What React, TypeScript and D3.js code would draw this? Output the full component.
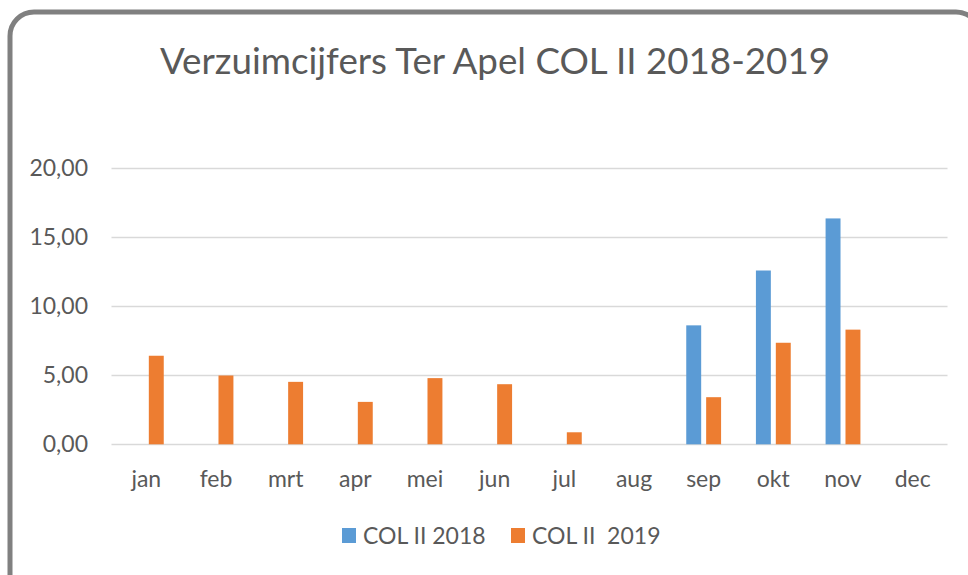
import React, { useEffect, useRef } from 'react';
import * as d3 from 'd3';

// data
const months = ['jan', 'feb', 'mrt', 'apr', 'mei', 'jun', 'jul', 'aug', 'sep', 'okt', 'nov', 'dec'];
const seriesNames = ['COL II 2018', 'COL II  2019'];
const col2018: (number | null)[] = [null, null, null, null, null, null, null, null, 8.61, 12.58, 16.35, null];
const col2019: (number | null)[] = [6.41, 4.98, 4.52, 3.07, 4.79, 4.35, 0.87, null, 3.41, 7.35, 8.3, null];
const yTicks = [0, 5, 10, 15, 20];
const title = 'Verzuimcijfers Ter Apel COL II 2018-2019';

const colors = ['#5B9BD5', '#ED7D31'];
const textColor = '#595959';
const FONT = 'Lato, "Open Sans", sans-serif';

export default function App() {
    const ref = useRef<SVGSVGElement>(null);

    useEffect(() => {
        const width = 968, height = 575;
        const svg = d3.select(ref.current);
        svg.selectAll('*').remove();

        svg.append('rect')
            .attr('width', width).attr('height', height).attr('fill', '#fff');

        // chart frame
        svg.append('rect')
            .attr('x', 10).attr('y', 12)
            .attr('width', 970).attr('height', 620)
            .attr('rx', 24).attr('ry', 24)
            .attr('fill', 'none')
            .attr('stroke', '#808080')
            .attr('stroke-width', 5);

        // title
        svg.append('text')
            .attr('x', 495).attr('y', 74)
            .attr('text-anchor', 'middle')
            .attr('font-family', FONT)
            .attr('font-size', 36)
            .attr('fill', textColor)
            .attr('textLength', 670)
            .attr('lengthAdjust', 'spacingAndGlyphs')
            .text(title);

        // scales
        const x = d3.scaleBand()
            .domain(months)
            .range([111.5, 947.5])
            .paddingInner(0.5)
            .paddingOuter(0.25);

        const xSub = d3.scaleBand()
            .domain(seriesNames)
            .range([0, x.bandwidth()])
            .paddingInner(0.25);

        const y = d3.scaleLinear()
            .domain([0, 20])
            .range([444.3, 168]);

        const fmt = (v: number) => d3.format('.2f')(v).replace('.', ',');

        // gridlines
        svg.append('g')
            .selectAll('line')
            .data(yTicks)
            .enter()
            .append('line')
            .attr('x1', 111.5).attr('x2', 947.5)
            .attr('y1', d => Math.round(y(d)) + 0.5)
            .attr('y2', d => Math.round(y(d)) + 0.5)
            .attr('stroke', '#D9D9D9')
            .attr('stroke-width', 1.5);

        // y labels
        svg.append('g')
            .selectAll('text')
            .data(yTicks)
            .enter()
            .append('text')
            .attr('x', 88)
            .attr('y', d => y(d))
            .attr('dy', '0.35em')
            .attr('text-anchor', 'end')
            .attr('font-family', FONT)
            .attr('font-size', 23)
            .attr('fill', textColor)
            .text(d => fmt(d));

        // x labels
        svg.append('g')
            .selectAll('text')
            .data(months)
            .enter()
            .append('text')
            .attr('x', d => (x(d) as number) + x.bandwidth() / 2)
            .attr('y', 487)
            .attr('text-anchor', 'middle')
            .attr('font-family', FONT)
            .attr('font-size', 23)
            .attr('fill', textColor)
            .text(d => d);

        // bars
        const series = [col2018, col2019];
        series.forEach((vals, si) => {
            svg.append('g')
                .selectAll('rect')
                .data(months.map((m, i) => ({ m, v: vals[i] })).filter(d => d.v !== null))
                .enter()
                .append('rect')
                .attr('x', d => (x(d.m) as number) + (xSub(seriesNames[si]) as number))
                .attr('width', xSub.bandwidth())
                .attr('y', d => y(d.v as number))
                .attr('height', d => y(0) - y(d.v as number))
                .attr('fill', colors[si]);
        });

        // legend
        const legendItems = [
            { name: seriesNames[0], sx: 342, tx: 363 },
            { name: seriesNames[1], sx: 511, tx: 532 },
        ];
        const legend = svg.append('g');
        legendItems.forEach((d, i) => {
            legend.append('rect')
                .attr('x', d.sx).attr('y', 528)
                .attr('width', 14).attr('height', 15)
                .attr('fill', colors[i]);
            legend.append('text')
                .attr('x', d.tx).attr('y', 544)
                .attr('font-family', FONT)
                .attr('font-size', 23)
                .attr('fill', textColor)
                .attr('xml:space', 'preserve')
                .style('white-space', 'pre')
                .text(d.name);
        });
    }, []);

    return (
        <svg ref={ref} width={968} height={575}
             style={{ position: 'absolute', left: 0, top: 0, display: 'block' }} />
    );
}
